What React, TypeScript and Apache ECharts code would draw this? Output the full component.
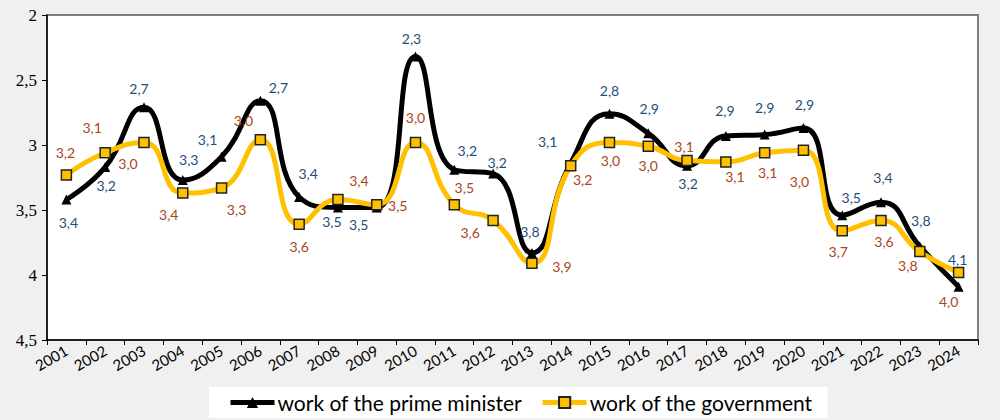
import React, { useEffect, useRef } from "react";
import * as echarts from "echarts";

const years = ["2001","2002","2003","2004","2005","2006","2007","2008","2009","2010","2011","2012","2013","2014","2015","2016","2017","2018","2019","2020","2021","2022","2023","2024"];
const pmValues = [3.42,3.17,2.71,3.27,3.09,2.66,3.40,3.48,3.48,2.32,3.19,3.22,3.83,3.14,2.76,2.91,3.16,2.93,2.92,2.87,3.54,3.44,3.78,4.09];
const govValues = [3.23,3.06,2.98,3.37,3.33,2.96,3.61,3.42,3.46,2.98,3.46,3.58,3.91,3.16,2.98,3.01,3.12,3.13,3.06,3.04,3.66,3.58,3.82,3.98];
const yTicks = { min: 2, max: 4.5, interval: 0.5 };
const pmName = "work of the prime minister";
const govName = "work of the government";

// label offsets (layout only)
const pmLabelOffset = [[2,23],[1,18],[-5,-19],[6,-21],[-14,-17],[18,-13],[9,-24],[-6,14],[-18,17],[-4,-18],[13,-19],[4,-11],[-2,-21],[-23,-22],[0,-23],[1,-25],[1,18],[-1,-25],[0,-27],[1,-24],[9,-18],[2,-25],[1,-26],[-1,-27]];
const govLabelOffset = [[-1,-22],[-13,-25],[-16,21],[-14,21],[15,22],[-17,-19],[0,22],[21,-19],[21,1],[0,-25],[10,-17],[-23,12],[30,3],[12,14],[1,18],[0,19],[-3,-14],[9,15],[3,20],[-4,31],[-4,21],[3,21],[-12,14],[-10,29]];

const fmt = (v: number) => v.toFixed(1).replace(".", ",");

export default function App() {
  const ref = useRef<HTMLDivElement>(null);
  useEffect(() => {
    if (!ref.current) return;
    const chart = echarts.init(ref.current, undefined, { renderer: "svg" });
    const mk = (vals: number[], offs: number[][]) =>
      vals.map((v, i) => ({ value: v, label: { offset: offs[i] } }));
    chart.setOption({
      animation: false,
      backgroundColor: "#f0f0f0",
      grid: {
        left: 47, right: 22, top: 15, bottom: 80,
        show: true, backgroundColor: "#ffffff", borderColor: "#808080", borderWidth: 2,
      },
      legend: {
        left: 209, top: 387,
        padding: [5, 15, 5, 19],
        backgroundColor: "#ffffff",
        itemWidth: 44, itemHeight: 14, itemGap: 18,
        textStyle: { fontFamily: "Lato", fontSize: 21, color: "#000", padding: [0, 0, 0, -2] },
        data: [
          { name: pmName, lineStyle: { width: 5 } },
          { name: govName, lineStyle: { width: 5 } },
        ],
      },
      xAxis: {
        type: "category",
        data: years,
        boundaryGap: true,
        axisLine: { lineStyle: { color: "#000", width: 1.5 } },
        axisTick: { show: true, interval: 0, length: 5, lineStyle: { color: "#000" } },
        axisLabel: { interval: 0, rotate: 30, margin: 9, fontFamily: "Lato", fontSize: 15, color: "#000" },
      },
      yAxis: {
        type: "value",
        inverse: true,
        min: yTicks.min, max: yTicks.max, interval: yTicks.interval,
        splitLine: { show: false },
        axisLine: { show: true, lineStyle: { color: "#000", width: 1.5 } },
        axisTick: { show: true, length: 5, lineStyle: { color: "#000" } },
        axisLabel: {
          margin: 10, fontFamily: "'Liberation Serif', 'DejaVu Serif', serif", fontSize: 17, color: "#000",
          formatter: (v: number) => String(v).replace(".", ","),
        },
      },
      series: [
        {
          name: pmName,
          type: "line",
          smooth: 0.5,
          data: mk(pmValues, pmLabelOffset),
          symbol: "triangle",
          symbolSize: 10,
          lineStyle: { color: "#000", width: 5 },
          itemStyle: { color: "#000", borderColor: "#000", borderWidth: 0 },
          label: {
            show: true, position: "inside", align: "center", verticalAlign: "middle",
            fontFamily: "Lato", fontSize: 14, color: "#1f4e79",
            formatter: (p: any) => fmt(p.value),
          },
          z: 2,
        },
        {
          name: govName,
          type: "line",
          smooth: 0.5,
          data: mk(govValues, govLabelOffset),
          symbol: "rect",
          symbolSize: 10,
          lineStyle: { color: "#ffc000", width: 5 },
          itemStyle: { color: "#ffc000", borderColor: "#222", borderWidth: 1.5 },
          label: {
            show: true, position: "inside", align: "center", verticalAlign: "middle",
            fontFamily: "Lato", fontSize: 14, color: "#a9461b",
            formatter: (p: any) => fmt(p.value),
          },
          z: 3,
        },
      ],
    });
    return () => chart.dispose();
  }, []);
  return <div ref={ref} style={{ position: "fixed", left: 0, top: 0, width: 1000, height: 420 }} />;
}
